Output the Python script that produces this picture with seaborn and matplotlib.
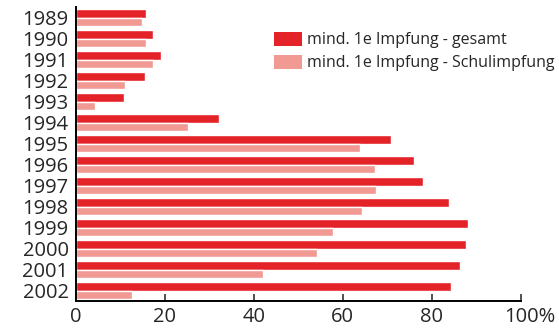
import matplotlib
matplotlib.use("Agg")
import matplotlib.pyplot as plt
import matplotlib.transforms as mtransforms
import seaborn as sns
import pandas as pd
from matplotlib.patches import Patch

# values (percent)
years = ["1989", "1990", "1991", "1992", "1993", "1994", "1995",
         "1996", "1997", "1998", "1999", "2000", "2001", "2002"]
gesamt = [15.8, 17.4, 19.2, 15.6, 10.9, 32.2, 70.8,
          76.0, 78.0, 83.8, 88.1, 87.7, 86.3, 84.3]
schule = [14.9, 15.8, 17.4, 11.1, 4.4, 25.3, 63.9,
          67.2, 67.5, 64.3, 57.8, 54.2, 42.1, 12.7]
series_names = ["mind. 1e Impfung - gesamt", "mind. 1e Impfung - Schulimpfung"]
colors = ["#E42328", "#F09A93"]

df = pd.concat([
    pd.DataFrame({"year": years, "value": gesamt, "series": series_names[0]}),
    pd.DataFrame({"year": years, "value": schule, "series": series_names[1]}),
])

sns.set_style("white")
plt.rcParams["font.family"] = ["Open Sans", "DejaVu Sans"]

fig = plt.figure(figsize=(5.59, 3.30), dpi=100)
ax = fig.add_axes([75.5 / 559, 29 / 330, (521 - 75.5) / 559, 294 / 330])

sns.barplot(data=df, y="year", x="value", hue="series", orient="h",
            palette=colors, width=0.78, saturation=1, order=years,
            hue_order=series_names, ax=ax, legend=False)

ax.set_xlim(0, 100)
ax.set_ylim(len(years) - 0.5, -0.5)
ax.set_xticks([0, 20, 40, 60, 80, 100])
ax.set_xticklabels(["0", "20", "40", "60", "80", "100%"])
ax.set_xlabel("")
ax.set_ylabel("")

for s in ["top", "right"]:
    ax.spines[s].set_visible(False)
for s in ["left", "bottom"]:
    ax.spines[s].set_color("black")
    ax.spines[s].set_linewidth(1.4)

ax.tick_params(axis="x", direction="in", length=5, width=1.2, color="#333333",
               labelsize=14.5, pad=4, bottom=True)
ax.tick_params(axis="y", length=0, labelsize=14.5, pad=5)
# the "100%" label sits a little right of its tick
last = ax.get_xticklabels()[-1]
last.set_transform(last.get_transform() +
                   mtransforms.ScaledTranslation(9 / 100, 0, fig.dpi_scale_trans))

handles = [Patch(facecolor=c, edgecolor="none") for c in colors]
fig.legend(handles, series_names, loc="upper left",
           bbox_to_anchor=(274 / 559, 1 - 32 / 330), frameon=False,
           fontsize=11.5, handlelength=1.75, handleheight=0.95,
           handletextpad=0.3, labelspacing=0.4, borderaxespad=0,
           borderpad=0)

fig.savefig("out.png", dpi=100)
